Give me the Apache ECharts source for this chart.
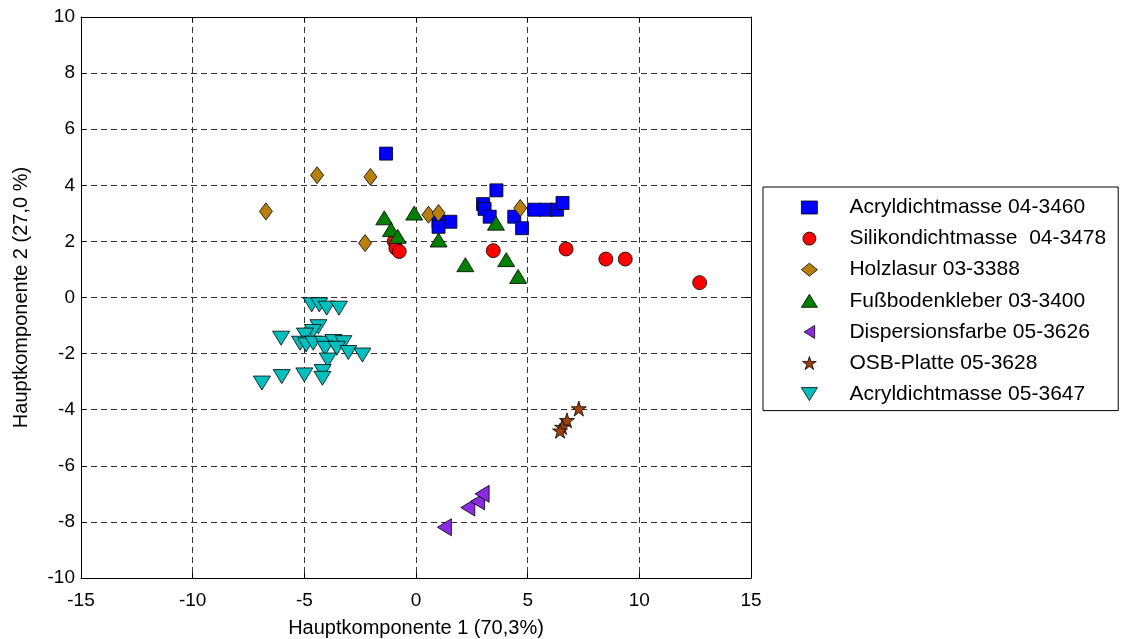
<!DOCTYPE html>
<html>
<head>
<meta charset="utf-8">
<script src="https://cdn.jsdelivr.net/npm/echarts@6/dist/echarts.min.js"></script>
<style>
html,body{margin:0;padding:0;background:#fff;}
#chart{width:1125px;height:639px;}
</style>
</head>
<body>
<div id="chart"></div>
<script>
const seriesNames = [
  'Acryldichtmasse 04-3460',
  'Silikondichtmasse  04-3478',
  'Holzlasur 03-3388',
  'Fu\u00dfbodenkleber 03-3400',
  'Dispersionsfarbe 05-3626',
  'OSB-Platte 05-3628',
  'Acryldichtmasse 05-3647'
];
const acryl0403460 = [[-1.34,5.13],[3.60,3.82],[3.00,3.33],[3.07,3.16],[3.30,2.88],[4.40,2.88],[4.75,2.47],[1.54,2.70],[1.01,2.70],[1.01,2.52],[5.29,3.13],[5.82,3.13],[6.31,3.13],[6.56,3.37]];
const silikon = [[-0.97,2.00],[-0.90,1.76],[-0.75,1.64],[3.46,1.67],[6.72,1.73],[8.50,1.37],[9.37,1.37],[12.70,0.53]];
const holzlasur = [[-4.43,4.36],[-2.04,4.30],[-6.72,3.07],[-2.28,1.94],[0.56,2.95],[1.01,3.01],[4.67,3.19]];
const fussboden = [[-1.42,2.84],[-0.08,3.01],[-1.12,2.42],[-0.82,2.18],[1.01,2.05],[3.58,2.65],[2.21,1.17],[4.04,1.35],[4.57,0.75]];
const dispersion = [[1.27,-8.19],[2.32,-7.49],[2.76,-7.27],[2.96,-7.00]];
const osb = [[7.29,-3.96],[6.76,-4.38],[6.54,-4.62],[6.45,-4.75]];
const acryl0503647 = [[-4.67,-0.26],[-4.33,-0.26],[-4.00,-0.38],[-3.45,-0.38],[-4.37,-1.04],[-4.62,-1.21],[-6.04,-1.45],[-4.97,-1.34],[-5.19,-1.63],[-4.92,-1.69],[-4.60,-1.63],[-4.15,-1.63],[-3.70,-1.57],[-3.25,-1.61],[-4.07,-1.81],[-3.55,-1.81],[-3.03,-1.96],[-2.40,-2.05],[-3.95,-2.23],[-4.18,-2.64],[-4.19,-2.88],[-5.00,-2.76],[-6.01,-2.82],[-6.90,-3.05]];

const xAxisTitle = 'Hauptkomponente 1 (70,3%)';
const yAxisTitle = 'Hauptkomponente 2 (27,0 %)';

const FONT = "'Liberation Sans', Arial, sans-serif";
const starPath = 'path://M50,0 L61.2,34.5 L97.6,34.5 L68.2,55.9 L79.4,90.5 L50,69.1 L20.6,90.5 L31.8,55.9 L2.4,34.5 L38.8,34.5 Z';
const upTri = 'path://M0,13 L16,13 L8,0 Z';
const downTri = 'path://M0,0 L16,0 L8,13 Z';
const leftTri = 'path://M13,0 L13,16 L0,8 Z';

const styles = [
  {symbol:'rect', size:[13,13], rot:0, color:'#0000FF', icon:'rect'},
  {symbol:'circle', size:14, rot:0, color:'#FF0000', icon:'circle'},
  {symbol:'diamond', size:[13,17], rot:0, color:'#B8800A', icon:'diamond'},
  {symbol:'triangle', size:[17,14], rot:0, color:'#008000', icon:upTri},
  {symbol:'triangle', size:[17,14], rot:90, color:'#8A2BE2', icon:leftTri},
  {symbol:starPath, size:15, rot:0, color:'#A0400A', icon:starPath},
  {symbol:'triangle', size:[17,14], rot:180, color:'#00BFBF', icon:downTri}
];
const datasets = [acryl0403460, silikon, holzlasur, fussboden, dispersion, osb, acryl0503647];

const chart = echarts.init(document.getElementById('chart'), null, {renderer:'canvas'});

const series = datasets.map((d, i) => ({
  name: seriesNames[i],
  type: 'scatter',
  xAxisIndex: 0,
  yAxisIndex: 0,
  data: d,
  symbol: styles[i].symbol,
  symbolSize: styles[i].size,
  symbolRotate: styles[i].rot,
  itemStyle: {color: styles[i].color, borderColor: '#000', borderWidth: 0.8, opacity: 1},
  emphasis: {disabled: true},
  z: 2 + i
}));

const legendData = seriesNames.map((n, i) => ({
  name: n,
  icon: styles[i].icon,
  symbolRotate: 0,
  itemStyle: {color: styles[i].color, borderColor: '#000', borderWidth: 0.8}
}));

const gridLine = {show:true, showMinLine:false, showMaxLine:false, lineStyle:{color:'#333', type:[6,4], width:1}};

chart.setOption({
  animation: false,
  backgroundColor: '#fff',
  textStyle: {fontFamily: FONT},
  grid: {left: 81, top: 17, right: 374, bottom: 61, containLabel: false, outerBoundsMode: 'none'},
  xAxis: [{
    type: 'value', min: -15, max: 15, interval: 5, position: 'bottom',
    axisLine: {show: true, onZero: false, lineStyle: {color: '#000', width: 1}},
    axisTick: {show: true, inside: true, length: 5, lineStyle: {color: '#000'}},
    axisLabel: {color: '#000', fontSize: 19, fontFamily: FONT, margin: 13},
    splitLine: gridLine,
    name: xAxisTitle, nameLocation: 'middle', nameGap: 40,
    nameTextStyle: {color: '#000', fontSize: 20, fontFamily: FONT}
  }, {
    type: 'value', min: -15, max: 15, interval: 5, position: 'top',
    axisLine: {show: true, onZero: false, lineStyle: {color: '#000', width: 1}},
    axisTick: {show: true, inside: true, length: 5, lineStyle: {color: '#000'}},
    axisLabel: {show: false}, splitLine: {show: false}
  }],
  yAxis: [{
    type: 'value', min: -10, max: 10, interval: 2, position: 'left',
    axisLine: {show: true, onZero: false, lineStyle: {color: '#000', width: 1}},
    axisTick: {show: true, inside: true, length: 5, lineStyle: {color: '#000'}},
    axisLabel: {color: '#000', fontSize: 19, fontFamily: FONT, margin: 6},
    splitLine: gridLine,
    name: yAxisTitle, nameLocation: 'middle', nameGap: 50, nameRotate: 90,
    nameTextStyle: {color: '#000', fontSize: 20, fontFamily: FONT}
  }, {
    type: 'value', min: -10, max: 10, interval: 2, position: 'right',
    axisLine: {show: true, onZero: false, lineStyle: {color: '#000', width: 1}},
    axisTick: {show: true, inside: true, length: 5, lineStyle: {color: '#000'}},
    axisLabel: {show: false}, splitLine: {show: false}
  }],
  legend: {
    show: true,
    orient: 'vertical',
    left: 763, top: 187,
    padding: [10, 12, 6, 38],
    itemWidth: 16, itemHeight: 13,
    itemGap: 10.1,
    borderColor: '#000', borderWidth: 1,
    backgroundColor: '#fff',
    selectedMode: false,
    data: legendData,
    textStyle: {color: '#000', fontSize: 21, fontFamily: FONT, lineHeight: 20, padding: [0,0,0,27]}
  },
  series: series
});
</script>
</body>
</html>
